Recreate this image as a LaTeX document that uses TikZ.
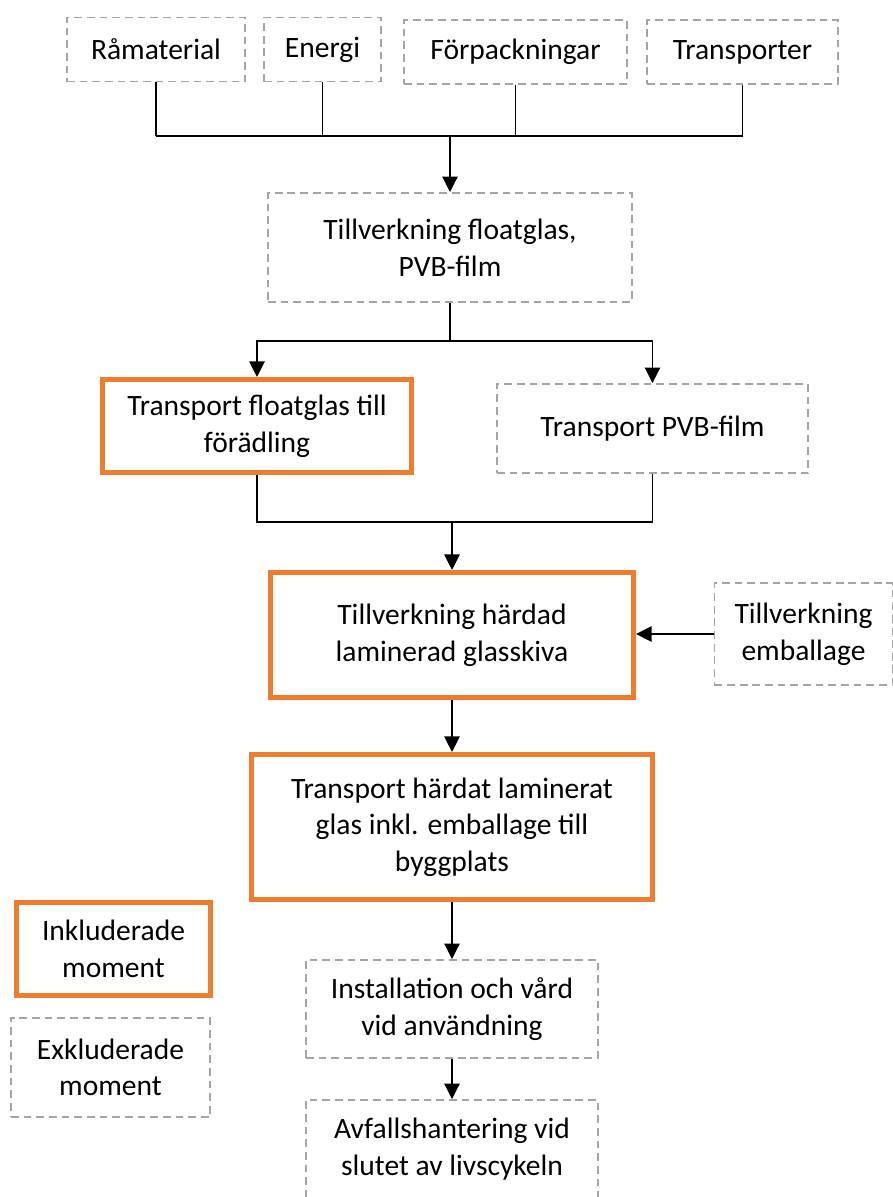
\documentclass[tikz,border=0pt]{standalone}
\usepackage{fontspec}
\setmainfont{Carlito}
\usetikzlibrary{arrows.meta}
\definecolor{orangeLCA}{HTML}{ED7D31}
\definecolor{grisLCA}{HTML}{A5A5A5}

\begin{document}
\begin{tikzpicture}[x=0.025cm, y=-0.025cm, line width=0.8pt, >={Triangle[length=11pt,width=11pt]},
  inkl/.style={draw=orangeLCA, line width=3.6pt, align=center, inner sep=0pt, font=\fontsize{21}{26}\selectfont},
  exkl/.style={draw=grisLCA, line width=1.4pt, dash pattern=on 5.5pt off 3.5pt, align=center, inner sep=0pt, font=\fontsize{21}{26}\selectfont}]
\useasboundingbox (0,0) rectangle (893,1197);
\foreach \n/\x/\y/\w/\t in {raw/156/49.5/4.45/Råmaterial, energi/322.5/49.5/2.925/Energi,
  forp/515.5/52/5.575/Förpackningar, transp/742.5/52/4.775/Transporter}
  \node[exkl, minimum width=\w cm, minimum height=1.6cm] (\n) at (\x,\y) {\t};
\node[exkl, minimum width=9.1cm, minimum height=2.725cm] (float) at (450,247.5) {Tillverkning floatglas,\\PVB-film};
\node[inkl, minimum width=7.725cm, minimum height=2.325cm] (tfl) at (257,426) {Transport floatglas till\\förädling};
\node[exkl, minimum width=7.775cm, minimum height=2.225cm] (tpvb) at (652.5,428.5) {Transport PVB-film};
\node[inkl, minimum width=9.075cm, minimum height=3.125cm] (hard) at (452,635) {Tillverkning härdad\\laminerad glasskiva};
\node[exkl, minimum width=4.45cm, minimum height=2.55cm] (emb) at (803.5,634) {Tillverkning\\emballage};
\node[inkl, minimum width=10.025cm, minimum height=3.625cm] (thl) at (452,827) {Transport härdat laminerat\\glas inkl. emballage till\\byggplats};
\node[exkl, minimum width=7.3cm, minimum height=2.45cm] (inst) at (452,1009) {Installation och vård\\vid användning};
\node[exkl, minimum width=7.3cm, minimum height=2.45cm] (avf) at (452,1149) {Avfallshantering vid\\slutet av livscykeln};
\node[inkl, minimum width=4.85cm, minimum height=2.325cm] (ink) at (113.5,949) {Inkluderade\\moment};
\node[exkl, minimum width=4.975cm, minimum height=2.475cm] (exk) at (110.5,1067.5) {Exkluderade\\moment};
% raccords
\coordinate (top) at (450,136);
\foreach \n in {raw,energi,forp,transp}
  \draw (\n.south) -- (\n.south |- top);
\draw (raw.south |- top) -- (transp.south |- top);
\draw[->] (top) -- (float.north);
\coordinate (split) at (450,341);
\draw (float.south) -- (split);
\draw[->] (split) -| (tfl.north);
\draw[->] (split) -| (tpvb.north);
\coordinate (merge) at (452,522);
\draw (tfl.south) |- (merge);
\draw (tpvb.south) |- (merge);
\draw[->] (merge) -- (hard.north);
\draw[->] (emb.west) -- (hard.east |- emb.west);
\draw[->] (hard.south) -- (thl.north);
\draw[->] (thl.south) -- (inst.north);
\draw[->] (inst.south) -- (avf.north);
\end{tikzpicture}
\end{document}
